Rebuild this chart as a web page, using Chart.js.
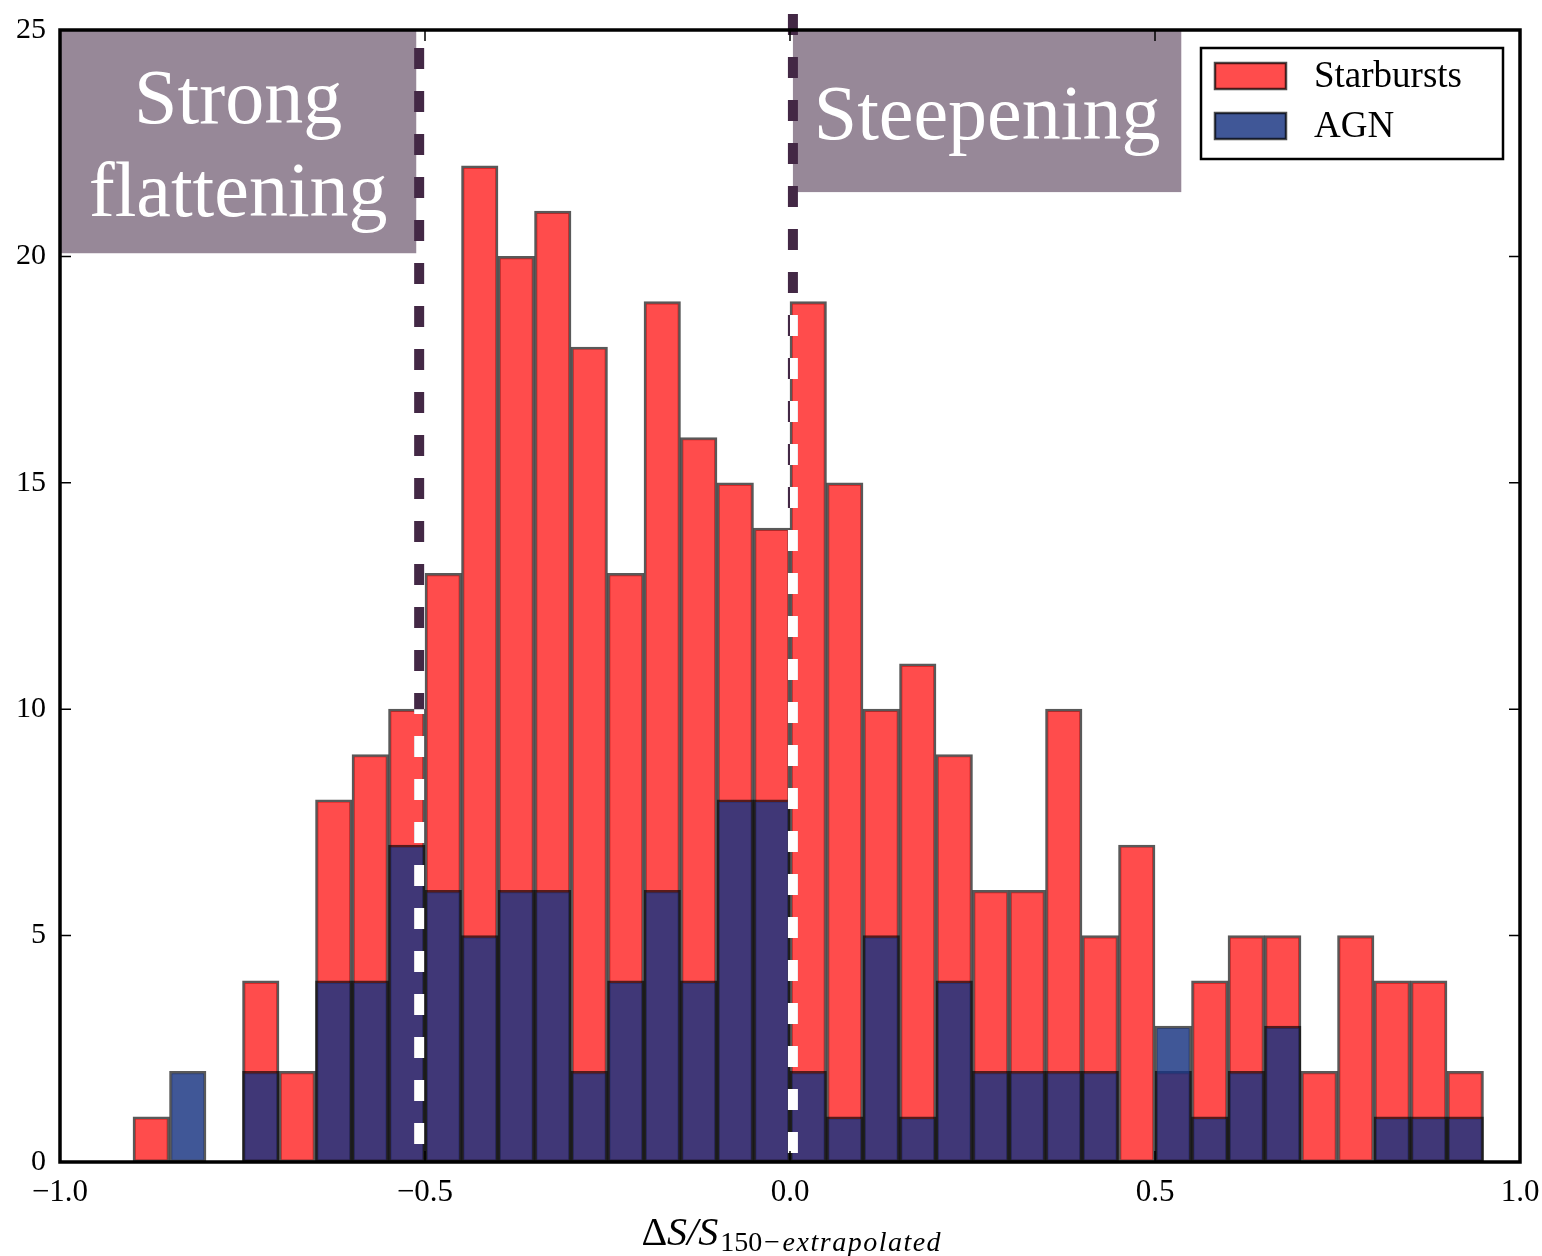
<!DOCTYPE html>
<html>
<head>
<meta charset="utf-8">
<script src="https://cdn.jsdelivr.net/npm/chart.js@4.4.1/dist/chart.umd.min.js"></script>
<style>
  html, body { margin: 0; padding: 0; background: #fff; }
  #wrap { width: 1542px; height: 1256px; }
</style>
</head>
<body>
<div id="wrap"><canvas id="hist"></canvas></div>
<script>
// histogram bins (centres), width 0.05
const binCenters = [-0.875, -0.825, -0.775, -0.725, -0.675, -0.625, -0.575, -0.525, -0.475, -0.425,
    -0.375, -0.325, -0.275, -0.225, -0.175, -0.125, -0.075, -0.025, 0.025, 0.075,
    0.125, 0.175, 0.225, 0.275, 0.325, 0.375, 0.425, 0.475, 0.525, 0.575,
    0.625, 0.675, 0.725, 0.775, 0.825, 0.875, 0.925];

const starbursts = [1, 0, 0, 4, 2, 8, 9, 10, 13, 22,
    20, 21, 18, 13, 19, 16, 15, 14, 19, 15,
    10, 11, 9, 6, 6, 10, 5, 7, 2, 4,
    5, 5, 2, 5, 4, 4, 2];

const agn = [0, 2, 0, 2, 0, 4, 4, 7, 6, 5,
    6, 6, 2, 4, 6, 4, 8, 8, 2, 1,
    5, 1, 4, 2, 2, 2, 2, 0, 3, 1,
    2, 3, 0, 0, 1, 1, 1];

const seriesNames = ["Starbursts", "AGN"];
const xTicks = [-1.0, -0.5, 0.0, 0.5, 1.0];
const yTicks = [0, 5, 10, 15, 20, 25];

// shaded labels and threshold lines
const regions = [
    { x0: -1.0, x1: -0.512, y0: 20.07, y1: 25, lines: ["Strong", "flattening"] },
    { x0: 0.004, x1: 0.536, y0: 21.42, y1: 25, lines: ["Steepening"] }
];
const cuts = [-0.508, 0.004];

const SERIF = '"Liberation Serif", "DejaVu Serif", serif';
const RED = "rgba(255, 0, 0, 0.7)";
const BLUE = "rgba(22, 50, 128, 0.82)";

function toPoints(vals) {
    return binCenters.map((c, i) => ({ x: c, y: vals[i] === 0 ? null : vals[i] }));
}

const decorPlugin = {
    id: "decor",
    beforeDatasetsDraw(chart) {
        const ctx = chart.ctx;
        const xs = chart.scales.x, ys = chart.scales.y;
        ctx.save();
        ctx.fillStyle = "#978898";
        regions.forEach(r => {
            const l = xs.getPixelForValue(r.x0), rr = xs.getPixelForValue(r.x1);
            const t = ys.getPixelForValue(r.y1), b = ys.getPixelForValue(r.y0);
            ctx.fillRect(l, t, rr - l, b - t);
        });
        ctx.restore();
    },
    afterDatasetsDraw(chart) {
        const ctx = chart.ctx;
        const area = chart.chartArea;
        const xs = chart.scales.x, ys = chart.scales.y;

        // region text
        ctx.save();
        ctx.fillStyle = "#ffffff";
        ctx.textAlign = "center";
        ctx.textBaseline = "alphabetic";
        ctx.font = "78px " + SERIF;
        regions.forEach(r => {
            const cx = (xs.getPixelForValue(r.x0) + xs.getPixelForValue(r.x1)) / 2;
            const t = ys.getPixelForValue(r.y1);
            if (r.lines.length === 2) {
                ctx.fillText(r.lines[0], cx, t + 93);
                ctx.fillText(r.lines[1], cx, t + 186);
            } else {
                ctx.fillText(r.lines[0], cx, t + 109);
            }
        });
        ctx.restore();

        // dashed threshold lines: dark outside bars, white over bars
        const starts = [48, 14];
        const ends = [area.bottom, area.bottom];
        const rects = [];
        chart.getSortedVisibleDatasetMetas().forEach(meta => {
            meta.data.forEach(el => {
                if (el.skip || el.y == null || isNaN(el.y)) return;
                const p = el.getProps(["x", "y", "base", "width"], true);
                rects.push([p.x - p.width / 2, p.y, p.width, p.base - p.y]);
            });
        });
        cuts.forEach((v, i) => {
            const px = xs.getPixelForValue(v);
            ctx.save();
            ctx.lineWidth = 10;
            ctx.setLineDash([21, 22]);
            ctx.strokeStyle = "#432845";
            ctx.beginPath();
            ctx.moveTo(px, starts[i]);
            ctx.lineTo(px, ends[i]);
            ctx.stroke();
            ctx.beginPath();
            rects.forEach(r => ctx.rect(r[0], r[1], r[2], r[3]));
            ctx.clip();
            ctx.strokeStyle = "#ffffff";
            ctx.beginPath();
            ctx.moveTo(px, starts[i]);
            ctx.lineTo(px, ends[i]);
            ctx.stroke();
            ctx.restore();
        });
    },
    afterDraw(chart) {
        const ctx = chart.ctx;
        const a = chart.chartArea;
        const xs = chart.scales.x, ys = chart.scales.y;
        ctx.save();
        // inward ticks on all four sides
        ctx.strokeStyle = "#000";
        ctx.lineWidth = 1.5;
        ctx.beginPath();
        xs.ticks.forEach(t => {
            const px = xs.getPixelForValue(t.value);
            ctx.moveTo(px, a.bottom); ctx.lineTo(px, a.bottom - 11);
            ctx.moveTo(px, a.top); ctx.lineTo(px, a.top + 11);
        });
        ys.ticks.forEach(t => {
            const py = ys.getPixelForValue(t.value);
            ctx.moveTo(a.left, py); ctx.lineTo(a.left + 11, py);
            ctx.moveTo(a.right, py); ctx.lineTo(a.right - 11, py);
        });
        ctx.stroke();
        // frame
        ctx.lineWidth = 3.5;
        ctx.strokeRect(a.left, a.top, a.right - a.left, a.bottom - a.top);

        // legend
        const lx = 1201, ly = 48, lw = 302, lh = 111;
        ctx.fillStyle = "#fff";
        ctx.fillRect(lx, ly, lw, lh);
        ctx.lineWidth = 2.5;
        ctx.strokeStyle = "#000";
        ctx.strokeRect(lx, ly, lw, lh);
        const ds = chart.data.datasets;
        [0, 1].forEach(i => {
            const sy = ly + 15 + i * 50;
            ctx.fillStyle = "#fff";
            ctx.fillRect(lx + 14, sy, 71, 26);
            ctx.fillStyle = ds[i].backgroundColor;
            ctx.fillRect(lx + 14, sy, 71, 26);
            ctx.lineWidth = 2.5;
            ctx.strokeStyle = "rgba(0,0,0,0.7)";
            ctx.strokeRect(lx + 14, sy, 71, 26);
            ctx.fillStyle = "#000";
            ctx.font = "37px " + SERIF;
            ctx.textAlign = "left";
            ctx.textBaseline = "middle";
            ctx.fillText(ds[i].label, lx + 113, sy + 14);
        });

        // x axis title: ΔS/S_{150−extrapolated}
        const cx = (a.left + a.right) / 2;
        const base = 1245;
        const main1 = "Δ", main2 = "S/S", sub = "150", sub2 = "−extrapolated";
        ctx.textBaseline = "alphabetic";
        ctx.textAlign = "left";
        const fUp = "40px " + SERIF, fIt = "italic 40px " + SERIF;
        const fSub = "28px " + SERIF, fSubIt = "italic 28px " + SERIF;
        ctx.font = fUp; const w1 = ctx.measureText(main1).width;
        ctx.font = fIt; const w2 = ctx.measureText(main2).width;
        ctx.font = fSub; const w3 = ctx.measureText(sub).width;
        ctx.font = fSubIt; const w4 = ctx.measureText(sub2).width + 1.5 * 12;
        let x = cx - (w1 + w2 + w3 + w4) / 2;
        ctx.fillStyle = "#000";
        ctx.font = fUp; ctx.fillText(main1, x, base); x += w1;
        ctx.font = fIt; ctx.fillText(main2, x, base); x += w2 + 2;
        ctx.font = fSub; ctx.fillText(sub, x, base + 6); x += w3;
        ctx.font = fSubIt;
        // spread subscript letters a little (math italic spacing)
        for (const ch of sub2) {
            ctx.fillText(ch, x, base + 6);
            x += ctx.measureText(ch).width + 1.5;
        }
        ctx.restore();
    }
};

new Chart(document.getElementById("hist"), {
    type: "bar",
    data: {
        datasets: [
            {
                label: seriesNames[0],
                data: toPoints(starbursts),
                backgroundColor: RED,
                borderColor: "rgba(0,0,0,0.65)",
                borderWidth: 2.5,
                borderSkipped: false,
                grouped: false,
                order: 1,
                barPercentage: 1,
                categoryPercentage: 1
            },
            {
                label: seriesNames[1],
                data: toPoints(agn),
                backgroundColor: BLUE,
                borderColor: "rgba(0,0,0,0.65)",
                borderWidth: 2.5,
                borderSkipped: false,
                grouped: false,
                order: 0,
                barPercentage: 1,
                categoryPercentage: 1
            }
        ]
    },
    options: {
        responsive: true,
        maintainAspectRatio: false,
        animation: false,
        layout: { padding: { top: 30, right: 22, left: 0, bottom: 0 } },
        plugins: {
            legend: { display: false },
            tooltip: { enabled: false }
        },
        scales: {
            x: {
                type: "linear",
                min: -1,
                max: 1,
                offset: false,
                grid: { display: false, drawTicks: false },
                border: { display: false },
                afterFit(scale) {
                    scale.height = 94;
                    scale.paddingLeft = 0;
                    scale.paddingRight = 0;
                },
                afterBuildTicks(scale) { scale.ticks = xTicks.map(v => ({ value: v })); },
                ticks: {
                    color: "#000",
                    font: { family: SERIF, size: 31 },
                    padding: 12,
                    maxRotation: 0,
                    autoSkip: false,
                    callback: v => (v < 0 ? "−" : "") + Math.abs(v).toFixed(1)
                }
            },
            y: {
                min: 0,
                max: 25,
                grid: { display: false, drawTicks: false },
                border: { display: false },
                afterFit(scale) {
                    scale.width = 60;
                    scale.paddingTop = 0;
                    scale.paddingBottom = 0;
                },
                afterBuildTicks(scale) { scale.ticks = yTicks.map(v => ({ value: v })); },
                ticks: {
                    color: "#000",
                    font: { family: SERIF, size: 30 },
                    padding: 14
                }
            }
        }
    },
    plugins: [decorPlugin]
});
</script>
</body>
</html>
